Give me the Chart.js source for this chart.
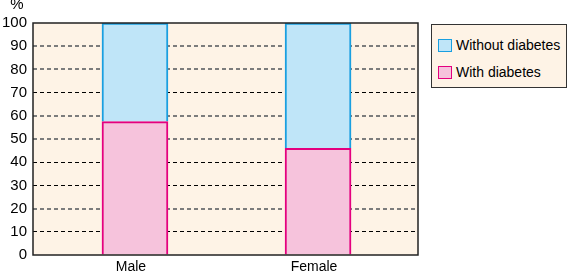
<!DOCTYPE html>
<html>
<head>
<meta charset="utf-8">
<script src="https://cdn.jsdelivr.net/npm/chart.js@4"></script>
<style>
  body { margin: 0; background: #fff; }
  #wrap { position: relative; width: 568px; height: 275px; }
  #legend {
    position: absolute; left: 431px; top: 24px; width: 134px; height: 62px;
    border: 1px solid #333; background: #fef3e6;
    font: 14px "Liberation Sans", Arial, sans-serif; color: #000;
  }
  .item { position: absolute; left: 6px; height: 14px; line-height: 14px; white-space: nowrap; }
  .item span.box { display: inline-block; width: 12px; height: 11px; vertical-align: top; margin-right: 4px; margin-top: 1px; }
</style>
</head>
<body>
<div id="wrap">
  <canvas id="chart" width="568" height="275"></canvas>
  <div id="legend"></div>
</div>
<script>
const categories = ['Male', 'Female'];
const withDiabetes = [57.5, 46];
const withoutDiabetes = [42.5, 54];
const yTicks = [0, 10, 20, 30, 40, 50, 60, 70, 80, 90, 100];
// lines that look grey/heavier in the picture
const greyLines = [20, 50, 60, 80, 90];

const FONT = '"Liberation Sans", Arial, sans-serif';

const plotBox = {
  id: 'plotBox',
  beforeDraw(chart) {
    const { ctx, chartArea: a } = chart;
    ctx.save();
    ctx.fillStyle = '#fef3e6';
    ctx.fillRect(a.left, a.top, a.right - a.left, a.bottom - a.top);
    ctx.restore();
  },
  afterDraw(chart) {
    const { ctx, chartArea: a } = chart;
    ctx.save();
    ctx.strokeStyle = '#222';
    ctx.lineWidth = 1.5;
    ctx.strokeRect(a.left, a.top, a.right - a.left, a.bottom - a.top);
    ctx.fillStyle = '#000';
    ctx.font = '15px ' + FONT;
    ctx.textAlign = 'center';
    ctx.textBaseline = 'middle';
    ctx.fillText('%', a.left - 16, a.top - 18);
    ctx.restore();
  }
};

const chart = new Chart(document.getElementById('chart'), {
  type: 'bar',
  data: {
    datasets: [{
      label: 'With diabetes',
      data: withDiabetes.map((v, i) => ({ x: i, y: v })),
      backgroundColor: '#f6c3dc',
      borderColor: '#e4007f',
      borderWidth: 2,
      barThickness: 66
    }, {
      label: 'Without diabetes',
      data: withoutDiabetes.map((v, i) => ({ x: i, y: v })),
      backgroundColor: '#bfe5f8',
      borderColor: '#1a9fe0',
      borderWidth: 2,
      barThickness: 66
    }]
  },
  plugins: [plotBox],
  options: {
    responsive: false,
    animation: false,
    layout: { padding: { top: 23, right: 150, left: 0, bottom: 0 } },
    plugins: { legend: { display: false }, tooltip: { enabled: false } },
    scales: {
      x: {
        type: 'linear',
        stacked: true,
        offset: false,
        min: -0.557,
        max: 1.546,
        afterBuildTicks: (s) => { s.ticks = categories.map((c, i) => ({ value: i })); },
        afterFit: (s) => { s.height = 20; },
        grid: { display: false, drawTicks: false, offset: false },
        border: { display: false },
        ticks: {
          color: '#000',
          font: { family: FONT, size: 14 },
          padding: 4,
          labelOffset: -4,
          callback: (v) => categories[v]
        }
      },
      y: {
        stacked: true,
        min: 0,
        max: 100,
        afterBuildTicks: (s) => { s.ticks = yTicks.map(v => ({ value: v })); },
        afterFit: (s) => { s.width = 33; },
        border: { display: false, dash: [4, 3] },
        grid: {
          drawTicks: false,
          color: (c) => {
            const v = c.tick ? c.tick.value : 0;
            if (v === 0 || v === 100) return 'rgba(0,0,0,0)';
            return greyLines.includes(v) ? '#7c7c7c' : '#000';
          },
          lineWidth: (c) => (c.tick && greyLines.includes(c.tick.value) ? 2 : 1)
        },
        ticks: {
          color: '#000',
          font: { family: FONT, size: 15 },
          padding: 6
        }
      }
    }
  }
});

// html legend built from the datasets (top item is the upper stack)
const legend = document.getElementById('legend');
chart.data.datasets.slice().reverse().forEach((ds, i) => {
  const d = document.createElement('div');
  d.className = 'item';
  d.style.top = (13 + i * 27) + 'px';
  d.innerHTML = '<span class="box" style="background:' + ds.backgroundColor +
    ';border:1.5px solid ' + ds.borderColor + '"></span>' + ds.label;
  legend.appendChild(d);
});
</script>
</body>
</html>
